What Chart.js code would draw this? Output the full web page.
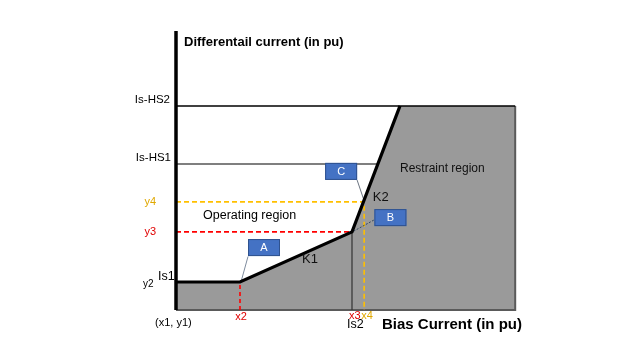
<!DOCTYPE html>
<html>
<head>
<meta charset="utf-8">
<script src="https://cdn.jsdelivr.net/npm/chart.js@4.4.1/dist/chart.umd.min.js"></script>
<style>
html,body{margin:0;padding:0;background:#fff;}
#wrap{width:640px;height:360px;position:relative;}
</style>
</head>
<body>
<div id="wrap"><canvas id="c" width="640" height="360"></canvas></div>
<script>
// ---- data (pu) ----
const charX = [0, 1, 2.75, 3.5, 5.3];          // x1, x2, x3 (Is2), K2 top, end
const charY = [1, 1, 2.79, 7.29, 7.29];        // Is1, Is1, y3, Is-HS2, Is-HS2
const yLevelNames = ['Is-HS2', 'Is-HS1', 'y4', 'y3', 'Is1'];
const yLevelValues = [7.29, 5.21, 3.86, 2.79, 1];
const xMarkNames = ['x2', 'x3', 'x4'];
const xMarkValues = [1, 2.75, 2.94];
const hs1EndX = [3.153];
const boxNames = ['A', 'B', 'C'];
const boxX = [1.375, 3.35, 2.58];
const boxY = [2.23, 3.30, 4.95];
const leaderFrom = [[1.125, 1.91], [3.09, 3.21], [2.83, 4.64]];
const leaderTo = [[1.02, 1.04], [2.78, 2.82], [2.94, 3.9]];
const axisMaxX = 5.5, axisMaxY = 10;

const pts = (xs, ys) => xs.map((x, i) => ({x, y: ys[i]}));
const seg = (a, b) => [{x: a[0], y: a[1]}, {x: b[0], y: b[1]}];

const HS2 = yLevelValues[0], HS1 = yLevelValues[1], Y4 = yLevelValues[2], Y3 = yLevelValues[3], IS1 = yLevelValues[4];
const X2 = xMarkValues[0], X3 = xMarkValues[1], X4 = xMarkValues[2];
const xEnd = charX[charX.length - 1];

const base = {showLine: true, pointRadius: 0, tension: 0, fill: false, clip: false, borderWidth: 1};
const datasets = [
  Object.assign({}, base, {data: pts(charX, charY), fill: 'origin', backgroundColor: '#9a9a9a', borderColor: 'rgba(0,0,0,0)', borderWidth: 0, order: 20}),
  Object.assign({}, base, {data: [{x: xEnd, y: HS2}, {x: xEnd, y: 0}, {x: 0, y: 0}], borderColor: '#5a5a5a', borderWidth: 2, order: 15}),
  Object.assign({}, base, {data: seg([0, HS2], [xEnd, HS2]), borderColor: '#000', borderWidth: 1.5, order: 10}),
  Object.assign({}, base, {data: seg([0, HS1], [hs1EndX[0], HS1]), borderColor: '#555', borderWidth: 1.5, order: 10}),
  Object.assign({}, base, {data: [{x: 0, y: Y4}, {x: X4, y: Y4}, {x: X4, y: 0}], borderColor: '#FFC000', borderWidth: 1.6, borderDash: [5, 3], order: 9}),
  Object.assign({}, base, {data: seg([0, Y3], [X3, Y3]), borderColor: '#FF0000', borderWidth: 1.6, borderDash: [5, 3], order: 9}),
  Object.assign({}, base, {data: seg([X2, 0], [X2, IS1]), borderColor: '#FF0000', borderWidth: 1.6, borderDash: [4, 3], order: 9}),
  Object.assign({}, base, {data: seg([X3, 0], [X3, Y3]), borderColor: '#333', borderWidth: 1.2, order: 9}),
  Object.assign({}, base, {data: seg(leaderFrom[0], leaderTo[0]), borderColor: '#7f8c9e', borderWidth: 1, order: 8}),
  Object.assign({}, base, {data: seg(leaderFrom[1], leaderTo[1]), borderColor: '#34485f', borderWidth: 1, borderDash: [2, 1.5], order: 8}),
  Object.assign({}, base, {data: seg(leaderFrom[2], leaderTo[2]), borderColor: '#6b7480', borderWidth: 1, order: 8}),
  Object.assign({}, base, {data: pts(charX.slice(0, 4), charY.slice(0, 4)), borderColor: '#000', borderWidth: 3.2, borderJoinStyle: 'miter', order: 5}),
  Object.assign({}, base, {data: seg([0, 0], [0, axisMaxY * 0.996]), borderColor: '#000', borderWidth: 3.5, order: 4})
];

const FONT = '"Liberation Sans", Arial, sans-serif';
const textPlugin = {
  id: 'texts',
  afterDatasetsDraw(chart) {
    const ctx = chart.ctx;
    const xs = chart.scales.x, ys = chart.scales.y;
    const px = v => xs.getPixelForValue(v), py = v => ys.getPixelForValue(v);
    const T = (s, x, y, size, color, align, bold) => {
      ctx.font = (bold ? 'bold ' : '') + size + 'px ' + FONT;
      ctx.fillStyle = color; ctx.textAlign = align || 'left'; ctx.textBaseline = 'middle';
      ctx.fillText(s, x, y);
    };
    ctx.save();
    // boxes
    boxNames.forEach((n, i) => {
      const cx = px(boxX[i]), cy = py(boxY[i]);
      ctx.fillStyle = '#4472C4'; ctx.fillRect(cx - 16, cy - 8.5, 32, 17);
      ctx.strokeStyle = '#2F528F'; ctx.lineWidth = 1; ctx.strokeRect(cx - 16 + 0.5, cy - 8.5 + 0.5, 31, 16);
      T(n, cx, cy + 0.5, 11, '#fff', 'center');
    });
    const x0 = px(0);
    T('Differentail current (in pu)', x0 + 8, py(axisMaxY) + 12, 13, '#000', 'left', true);
    T(yLevelNames[0], x0 - 6, py(HS2) - 6, 11.5, '#000', 'right');
    T(yLevelNames[1], x0 - 5, py(HS1) - 6, 11.5, '#000', 'right');
    T(yLevelNames[2], x0 - 20, py(Y4), 11, '#E0A800', 'right');
    T(yLevelNames[3], x0 - 20, py(Y3), 11, '#E00000', 'right');
    T(yLevelNames[4], x0 - 18, py(IS1) - 5, 12.5, '#000', 'left');
    T('y2', x0 - 33, py(IS1) + 2, 10, '#000', 'left');
    T('(x1, y1)', x0 - 21, py(0) + 13, 11, '#000', 'left');
    T(xMarkNames[0], px(X2) + 1, py(0) + 7, 11, '#E00000', 'center');
    T(xMarkNames[1], px(X3) - 3, py(0) + 6, 11, '#E00000', 'left');
    T(xMarkNames[2], px(X4) - 3, py(0) + 6, 11, '#E0A800', 'left');
    T('Is2', px(X3) - 5, py(0) + 15, 12.5, '#000', 'left');
    T('Bias Current (in pu)', px(X3) + 30, py(0) + 15, 15, '#000', 'left', true);
    T('Operating region', x0 + 27, py(Y3) - 16, 12.5, '#000', 'left');
    T('Restraint region', px(3.5), py(HS1) + 5, 12, '#111', 'left');
    T('K1', px(1.97), py(1.79), 13, '#111', 'left');
    T('K2', px(3.075), py(4.03), 13, '#111', 'left');
    ctx.restore();
  }
};

new Chart(document.getElementById('c'), {
  type: 'scatter',
  data: {datasets},
  options: {
    responsive: false,
    animation: false,
    events: [],
    layout: {padding: {left: 176, right: 640 - 176 - axisMaxX * 64, top: 30, bottom: 50}},
    scales: {
      x: {type: 'linear', min: 0, max: axisMaxX, display: false},
      y: {type: 'linear', min: 0, max: axisMaxY, display: false}
    },
    plugins: {legend: {display: false}, tooltip: {enabled: false}}
  },
  plugins: [textPlugin]
});
</script>
</body>
</html>
